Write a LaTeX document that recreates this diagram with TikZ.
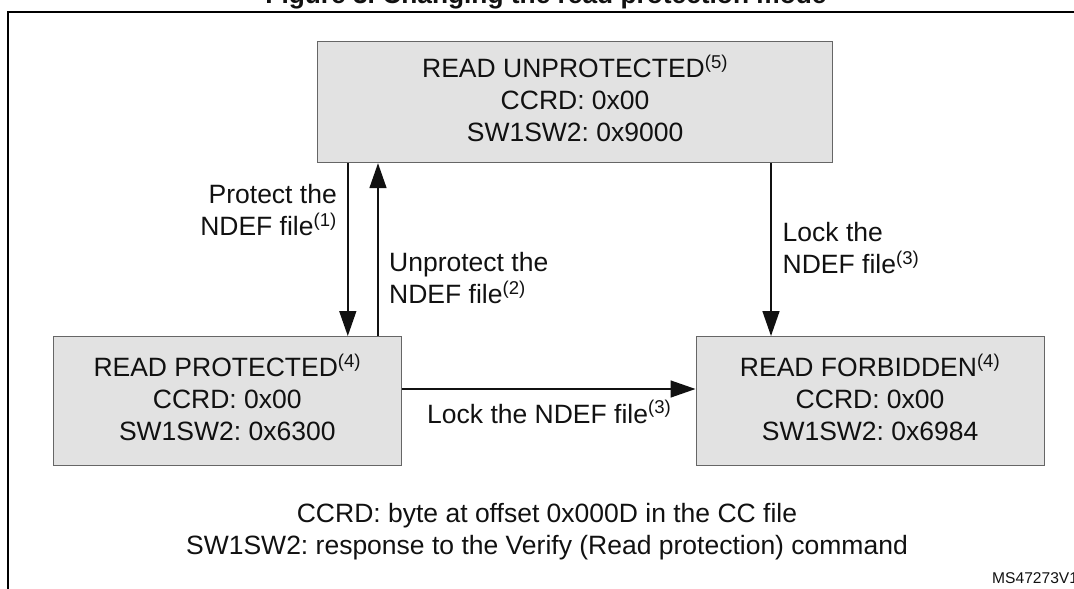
\documentclass[tikz,border=0pt]{standalone}
\usepackage{fontspec}
\setmainfont{Liberation Sans}
\usetikzlibrary{arrows.meta}
\definecolor{boxfill}{HTML}{E2E2E2}
\definecolor{boxline}{HTML}{666666}
\definecolor{ink}{HTML}{111111}
\newcommand{\fn}[1]{\textsuperscript{(#1)}}
\tikzset{
  x=1pt,y=-1pt,
  state/.style={draw=boxline,fill=boxfill,line width=1.2pt,anchor=north west,inner sep=0pt,align=center,text=ink,font=\frenchspacing\fontsize{26.5}{32}\selectfont,text depth=7.5pt},
  lbl/.style={inner sep=0pt,text=ink,font=\frenchspacing\fontsize{26.5}{32}\selectfont},
  conn/.style={draw=ink,line width=1.5pt,-{Triangle[length=25pt,width=17pt]}},
}
\begin{document}
\begin{tikzpicture}
\useasboundingbox (0,0) rectangle (1074,589);
\begin{scope}
\clip (0,0) rectangle (1074,589);
\node[lbl,anchor=base,font=\bfseries\frenchspacing\fontsize{26.3}{28}\selectfont] (title) at (546,3) {Figure 3. Changing the read protection mode};
\draw[black,line width=1.7pt] (1076,12) -- (8,12) -- (8,591);
\node[state,minimum width=515pt,minimum height=121pt] (top) at (317,41) {READ UNPROTECTED\fn{5}\\CCRD: 0x00\\SW1SW2: 0x9000};
\node[state,minimum width=348pt,minimum height=128.5pt] (left) at (52.7,336) {READ PROTECTED\fn{4}\\CCRD: 0x00\\SW1SW2: 0x6300};
\node[state,minimum width=348pt,minimum height=128.5pt] (right) at (695.5,336) {READ FORBIDDEN\fn{4}\\CCRD: 0x00\\SW1SW2: 0x6984};
\draw[conn] (top.south west -| 347.8,0) -- (left.north west -| 347.8,0);
\draw[conn] (left.north west -| 378,0) -- (top.south west -| 378,0);
\draw[conn] (top.south west -| 771,0) -- (right.north west -| 771,0);
\draw[conn] (left.east |- 0,389) -- (right.west |- 0,389);
\node[lbl,anchor=east,align=right] (a) at (337,210) {Protect the\\NDEF file\fn{1}};
\node[lbl,anchor=west,align=left] (b) at (389,278) {Unprotect the\\NDEF file\fn{2}};
\node[lbl,anchor=west,align=left] (c) at (782.5,248) {Lock the\\NDEF file\fn{3}};
\node[lbl,anchor=base west] (d) at (427,423) {Lock the NDEF file\fn{3}};
\node[lbl,anchor=center,align=center] (e) at (547,532) {CCRD: byte at offset 0x000D in the CC file\\SW1SW2: response to the Verify (Read protection) command};
\node[lbl,anchor=base west,font=\fontsize{15.6}{16}\selectfont] (f) at (992,583) {MS47273V1};
\end{scope}
\end{tikzpicture}
\end{document}
